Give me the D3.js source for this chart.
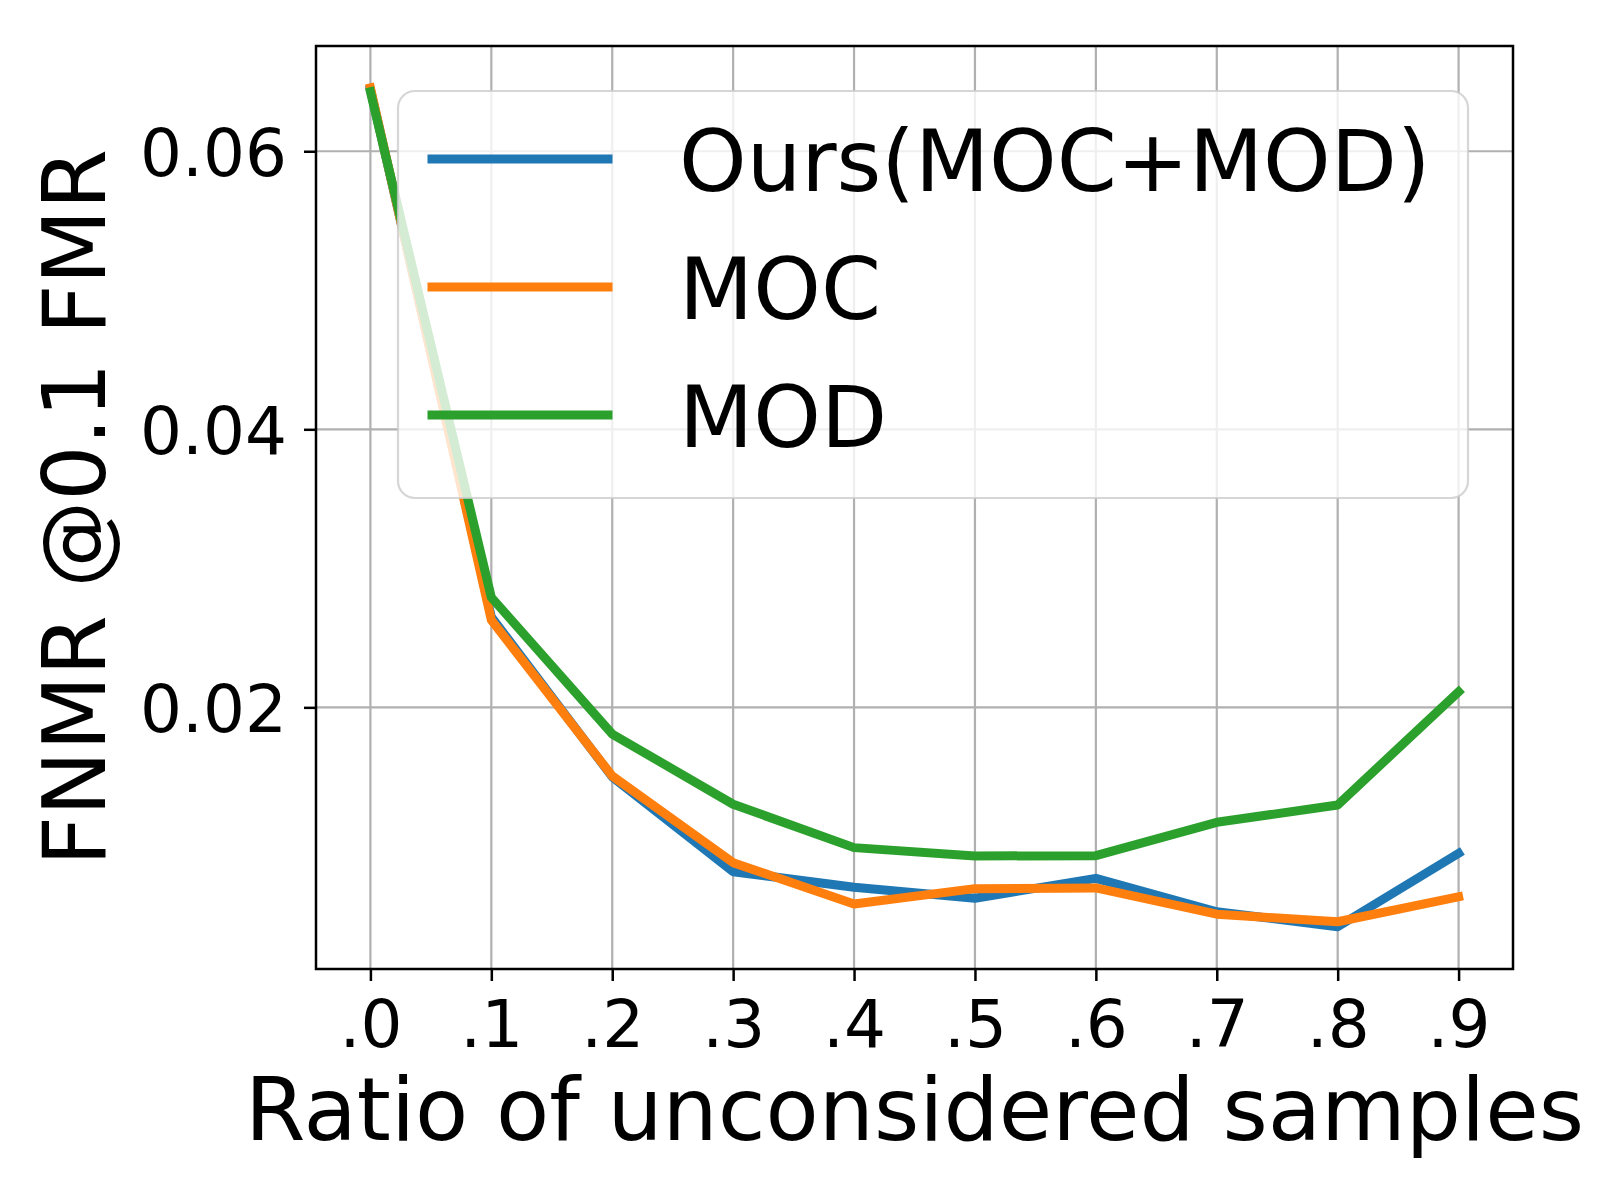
<!DOCTYPE html>
<html>
<head>
<meta charset="UTF-8">
<title>FNMR vs ratio of unconsidered samples</title>
<script src="https://d3js.org/d3.v7.min.js"></script>
<style>
	body { margin: 0; background: #fff; }
	text { font-family: "DejaVu Sans", sans-serif; fill: #000; }
</style>
</head>
<body>
	<div id="svg-container"></div>
	<script type="text/javascript">

		// data
		let ratios = [0, 0.1, 0.2, 0.3, 0.4, 0.5, 0.6, 0.7, 0.8, 0.9];
		let xTickLabels = [".0", ".1", ".2", ".3", ".4", ".5", ".6", ".7", ".8", ".9"];
		let yTicks = [0.02, 0.04, 0.06];

		let seriesNames = ["Ours(MOC+MOD)", "MOC", "MOD"];
		let oursValues = [0.06445, 0.0265, 0.0150, 0.00818, 0.00706, 0.00627, 0.0077, 0.0053, 0.00422, 0.0095];
		let mocValues  = [0.06455, 0.02628, 0.01506, 0.00883, 0.00586, 0.00696, 0.00701, 0.00512, 0.00458, 0.00638];
		let modValues  = [0.06428, 0.02791, 0.01808, 0.01303, 0.00991, 0.00931, 0.00933, 0.01173, 0.01298, 0.02112];

		let colors = ["#1f77b4", "#ff7f0e", "#2ca02c"];

		let width = 1600, height = 1200;
		let plotLeft = 316, plotRight = 1513, plotTop = 46, plotBottom = 969;

		let svg = d3.select("#svg-container")
			.append("svg")
			.attr("width", width)
			.attr("height", height);

		let x = d3.scaleLinear().domain([-0.045, 0.945]).range([plotLeft, plotRight]);
		let y = d3.scaleLinear().domain([0.00118, 0.06757]).range([plotBottom, plotTop]);

		// grid
		let grid = svg.append("g");
		grid.selectAll("line.vx")
			.data(ratios)
			.join("line")
			.attr("class", "vx")
			.attr("x1", d => x(d)).attr("x2", d => x(d))
			.attr("y1", plotTop).attr("y2", plotBottom)
			.attr("stroke", "#b0b0b0").attr("stroke-width", 2.2);
		grid.selectAll("line.hy")
			.data(yTicks)
			.join("line")
			.attr("class", "hy")
			.attr("x1", plotLeft).attr("x2", plotRight)
			.attr("y1", d => y(d)).attr("y2", d => y(d))
			.attr("stroke", "#b0b0b0").attr("stroke-width", 2.2);

		// axes
		let xAxis = svg.append("g")
			.attr("transform", `translate(0,${plotBottom})`)
			.call(d3.axisBottom(x)
				.tickValues(ratios)
				.tickFormat((d, i) => xTickLabels[i])
				.tickSize(12)
				.tickPadding(19));

		let yAxis = svg.append("g")
			.attr("transform", `translate(${plotLeft},0)`)
			.call(d3.axisLeft(y)
				.tickValues(yTicks)
				.tickFormat(d3.format(".2f"))
				.tickSize(12)
				.tickPadding(17));

		[xAxis, yAxis].forEach(a => {
			a.select(".domain").remove();
			a.selectAll(".tick line").attr("stroke", "#000").attr("stroke-width", 2.5);
			a.selectAll(".tick text").attr("font-size", 66).attr("font-family", "DejaVu Sans");
		});
		yAxis.selectAll(".tick text").attr("dy", "0.36em");

		// lines
		let allSeries = [oursValues, mocValues, modValues];
		let line = d3.line()
			.x((d, i) => x(ratios[i]))
			.y(d => y(d));

		svg.append("g")
			.selectAll("path")
			.data(allSeries)
			.join("path")
			.attr("d", d => line(d))
			.attr("fill", "none")
			.attr("stroke", (d, i) => colors[i])
			.attr("stroke-width", 9)
			.attr("stroke-linecap", "square")
			.attr("stroke-linejoin", "round");

		// frame
		svg.append("rect")
			.attr("x", plotLeft).attr("y", plotTop)
			.attr("width", plotRight - plotLeft).attr("height", plotBottom - plotTop)
			.attr("fill", "none")
			.attr("stroke", "#000")
			.attr("stroke-width", 2.5);

		// legend
		let legend = svg.append("g");
		legend.append("rect")
			.attr("x", 398).attr("y", 91)
			.attr("width", 1070).attr("height", 407)
			.attr("rx", 17).attr("ry", 17)
			.attr("fill", "rgba(255,255,255,0.8)")
			.attr("stroke", "rgba(204,204,204,0.8)")
			.attr("stroke-width", 2.2);

		let entry = legend.selectAll("g.entry")
			.data(seriesNames)
			.join("g")
			.attr("class", "entry")
			.attr("transform", (d, i) => `translate(0,${159 + i * 128})`);
		entry.append("line")
			.attr("x1", 432).attr("x2", 608)
			.attr("y1", 0).attr("y2", 0)
			.attr("stroke", (d, i) => colors[i])
			.attr("stroke-width", 9)
			.attr("stroke-linecap", "square");
		entry.append("text")
			.attr("x", 679).attr("y", 32)
			.attr("font-size", 86)
			.text(d => d);

		// axis labels
		svg.append("text")
			.attr("x", (plotLeft + plotRight) / 2)
			.attr("y", 1140)
			.attr("text-anchor", "middle")
			.attr("font-size", 87)
			.text("Ratio of unconsidered samples");

		svg.append("text")
			.attr("transform", `translate(105,${(plotTop + plotBottom) / 2}) rotate(-90)`)
			.attr("text-anchor", "middle")
			.attr("font-size", 87)
			.text("FNMR @0.1 FMR");
	</script>
</body>
</html>
